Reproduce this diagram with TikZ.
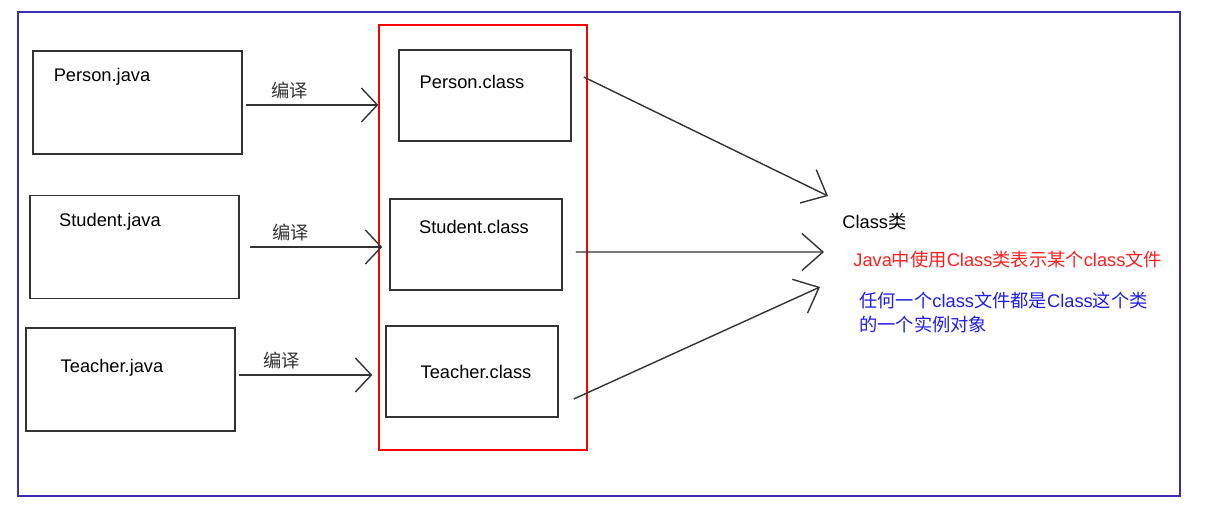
\documentclass[tikz,border=0pt]{standalone}
\usepackage{fontspec}
\setmainfont{Liberation Sans}
\newfontfamily\cjk{Noto Sans CJK SC}
\usetikzlibrary{arrows.meta, positioning}
\definecolor{frameblue}{HTML}{3B2DB0}
\definecolor{boxgray}{HTML}{333333}
\definecolor{notered}{HTML}{FF1E1E}
\definecolor{noteblue}{HTML}{1E1EE6}
\newcommand{\zh}[1]{{\cjk #1}}
\tikzset{
  file box/.style={
    draw=boxgray,
    line width=0.9pt,
    minimum width=4.18cm,
    minimum height=2.06cm,
    inner sep=0pt
  },
  class box/.style={
    draw=boxgray,
    line width=0.9pt,
    minimum width=3.44cm,
    minimum height=1.82cm,
    inner sep=0pt
  },
  file text/.style={
    font=\fontsize{10.4}{12}\selectfont,
    inner sep=0pt
  },
  note/.style={
    font=\fontsize{10.4}{14.2}\selectfont,
    inner sep=0pt,
    anchor=west,
    align=left
  },
  compile/.style={
    -{Straight Barb[length=0.32cm, width=0.68cm]},
    line width=0.8pt,
    color=boxgray
  },
  maps to/.style={
    -{Straight Barb[length=0.42cm, width=0.74cm]},
    line width=0.8pt,
    color=boxgray
  }
}

\begin{document}
\begin{tikzpicture}[x=0.02cm, y=-0.02cm]
  \useasboundingbox (0,0) rectangle (1209,526);
  \draw[frameblue, line width=1pt] (18,12) rectangle (1180,496);
  \node[draw=red, line width=0.8pt, minimum width=4.16cm, minimum height=8.5cm, inner sep=0pt] (classes) at (483,237.5) {};

  % source files
  \node[file box] (pj) at (137.5,102.5) {};
  \node[file box] (sj) at (134.5,247) {};
  \node[file box] (tj) at (130.5,379.5) {};
  \node[file text] (pjname) at (102,77) {Person.java};
  \node[file text] (sjname) at (110,222) {Student.java};
  \node[file text] (tjname) at (112,368) {Teacher.java};

  % compiled classes
  \node[class box] (pc) at (485,95.5) {};
  \node[class box] (sc) at (476,244.5) {};
  \node[class box] (tc) at (472,371.5) {};
  \node[file text] (pcname) at (472,82) {Person.class};
  \node[file text] (scname) at (474,227) {Student.class};
  \node[file text] (tcname) at (476,372) {Teacher.class};

  \draw[compile] ([xshift=0.06cm, yshift=-0.05cm]pj.east) -- ([yshift=-0.05cm]pj.east -| classes.west)
    node[file text, pos=0.33, above=3pt] {\zh{编译}};
  \draw[compile] ([xshift=0.2cm]sj.east) -- ([xshift=0.08cm]sj.east -| classes.west)
    node[file text, pos=0.31, above=3pt] {\zh{编译}};
  \draw[compile] ([xshift=0.06cm, yshift=0.09cm]tj.east) -- ([xshift=-0.12cm, yshift=0.09cm]tj.east -| classes.west)
    node[file text, pos=0.32, above=3pt] {\zh{编译}};

  % Class objects
  \node[file text, anchor=west] (cls) at (842,222) {Class\zh{类}};
  \coordinate (tip1) at (828,196);
  \coordinate (tip2) at (824,252);
  \coordinate (tip3) at (820,287);
  \draw[maps to] ([xshift=0.24cm, yshift=0.37cm]pc.east) -- (tip1);
  \draw[maps to] ([xshift=0.26cm, yshift=-0.15cm]sc.east) -- (tip2);
  \draw[maps to] ([xshift=0.3cm, yshift=-0.55cm]tc.east) -- (tip3);

  \node[note, text=notered] (rednote) at (853,260)
    {Java\zh{中使用}Class\zh{类表示某个}class\zh{文件}};
  \node[note, text=noteblue] (bluenote) at (859,312.5)
    {\zh{任何一个}class\zh{文件都是}Class\zh{这个类}\\\zh{的一个实例对象}};
\end{tikzpicture}
\end{document}
